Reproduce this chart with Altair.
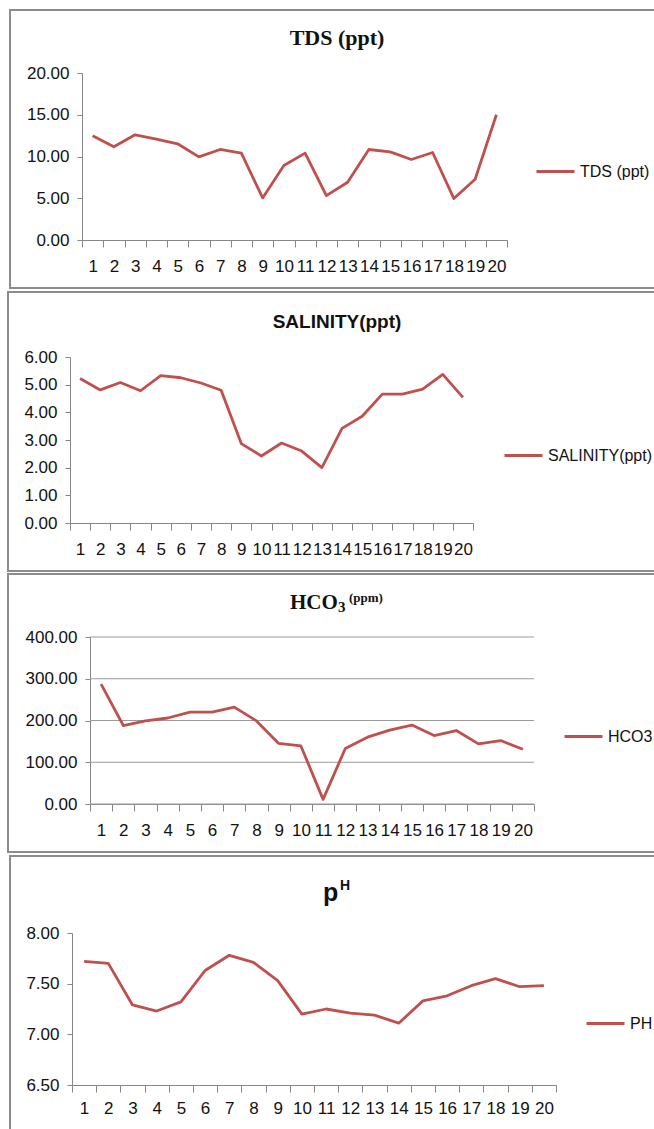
import altair as alt
import pandas as pd

# Sampling stations 1-20 and the measured parameters
stations = ["1", "2", "3", "4", "5", "6", "7", "8", "9", "10",
            "11", "12", "13", "14", "15", "16", "17", "18", "19", "20"]
tds_ppt = [12.48, 11.16, 12.60, 12.08, 11.52, 9.96, 10.84, 10.40, 5.04, 8.92,
           10.40, 5.32, 6.92, 10.84, 10.56, 9.64, 10.48, 4.96, 7.28, 15.00]
salinity_ppt = [5.22, 4.81, 5.08, 4.78, 5.33, 5.25, 5.06, 4.80, 2.87, 2.42,
                2.89, 2.60, 2.00, 3.42, 3.86, 4.66, 4.66, 4.84, 5.37, 4.54]
hco3_ppm = [287, 188, 199, 206, 220, 220, 232, 199, 145, 139,
            11, 133, 160, 177, 189, 164, 176, 144, 152, 131]
ph_values = [7.72, 7.70, 7.29, 7.23, 7.32, 7.63, 7.78, 7.71, 7.53, 7.20,
             7.25, 7.21, 7.19, 7.11, 7.33, 7.38, 7.48, 7.55, 7.47, 7.48]

PAGE_W, PAGE_H = 654, 1129
RED = "#C0504D"
AXIS_GRAY = "#868686"
BOX_GRAY = "#8c8c8c"
SANS = "Liberation Sans"
SERIF = "Liberation Serif"
TEXT = "#111111"
TICK_FONT = 17


def one_row():
    return alt.Chart(pd.DataFrame({"k": [0]}))


def label(text, x, y, size, font, align="left"):
    return one_row().mark_text(
        text=text, font=font, fontSize=size, fontWeight="bold",
        align=align, baseline="alphabetic", color=TEXT,
    ).encode(x=alt.value(x), y=alt.value(y))


def frame(left, top, bottom, closed=True):
    style = dict(color=BOX_GRAY, strokeWidth=2)
    right = PAGE_W + 10
    rules = [
        one_row().mark_rule(**style).encode(
            x=alt.value(left), x2=alt.value(right), y=alt.value(top)),
        one_row().mark_rule(strokeCap="square", **style).encode(
            x=alt.value(left), y=alt.value(top), y2=alt.value(bottom)),
    ]
    if closed:
        rules.append(one_row().mark_rule(**style).encode(
            x=alt.value(left), x2=alt.value(right), y=alt.value(bottom)))
    return rules


def panel(values, series, domain, ticks, plot, box, titles, legend_at,
          grid=False, x_pad=11, closed=True):
    """One boxed line chart; plot = (x0, x1, y_top, y_bottom) in page pixels."""
    x0, x1, y_top, y_bottom = plot
    df = pd.DataFrame({"station": stations, "value": values, "series": series})
    y_scale = alt.Scale(domain=domain, nice=False, zero=False,
                        range=[y_bottom, y_top])
    y_axis = alt.Axis(
        title=None, orient="left", offset=-x0, values=ticks,
        format=".2f", tickSize=5, labelPadding=8, labelFont=SANS,
        labelFontSize=TICK_FONT, labelColor=TEXT,
        domainColor=AXIS_GRAY, tickColor=AXIS_GRAY, grid=False,
    )
    line = alt.Chart(df).mark_line(strokeWidth=2.8, strokeJoin="round").encode(
        x=alt.X(
            "station:N", sort=stations,
            scale=alt.Scale(type="band", paddingInner=0, paddingOuter=0,
                            range=[x0, x1]),
            axis=alt.Axis(
                title=None, orient="bottom", offset=y_bottom - PAGE_H,
                labelAngle=0, tickBand="extent", tickSize=7,
                labelPadding=x_pad, labelFont=SANS, labelFontSize=TICK_FONT,
                labelColor=TEXT, domainColor=AXIS_GRAY, tickColor=AXIS_GRAY,
                labelOverlap=False, grid=False,
            ),
        ),
        y=alt.Y("value:Q", scale=y_scale, axis=y_axis),
        color=alt.Color(
            "series:N",
            scale=alt.Scale(domain=[series], range=[RED]),
            legend=alt.Legend(
                title=None, orient="none", legendX=legend_at[0],
                legendY=legend_at[1] - 19, symbolType="stroke",
                symbolSize=1444, symbolStrokeWidth=3, labelFont=SANS,
                labelFontSize=16, labelColor=TEXT, labelOffset=4, padding=0,
            ),
        ),
    )
    layers = frame(*box, closed=closed)
    if grid:
        # horizontal gridlines at each labelled value
        grid_df = pd.DataFrame({"value": ticks})
        layers.append(
            alt.Chart(grid_df).mark_rule(color="#9a9a9a", strokeWidth=1).encode(
                y=alt.Y("value:Q", scale=y_scale, axis=y_axis),
                x=alt.value(x0), x2=alt.value(x1),
            )
        )
    layers += [line] + titles
    return alt.layer(*layers)


tds_panel = panel(
    tds_ppt, "TDS (ppt)", [0, 20], [0, 5, 10, 15, 20],
    (82, 507, 73, 240), (10, 10, 288),
    [label("TDS (ppt)", 337, 45, 22, SERIF, align="center")],
    (535, 170),
)

salinity_panel = panel(
    salinity_ppt, "SALINITY(ppt)", [0, 6], [0, 1, 2, 3, 4, 5, 6],
    (70, 473, 357, 523), (8, 292, 571),
    [label("SALINITY(ppt)", 337, 328, 19, SANS, align="center")],
    (503, 454),
)

hco3_panel = panel(
    hco3_ppm, "HCO3", [0, 400], [0, 100, 200, 300, 400],
    (90, 534, 637, 804), (8, 574, 852),
    [
        label("HCO", 290, 609, 21, SERIF),
        label("3", 338, 612, 15, SERIF),
        label("(ppm)", 349, 602, 13, SERIF),
    ],
    (563, 735), grid=True,
)

ph_panel = panel(
    ph_values, "PH", [6.5, 8], [6.5, 7.0, 7.5, 8.0],
    (72, 556, 933, 1085), (10, 856, PAGE_H + 5),
    [
        label("p", 323, 901, 25, SANS),
        label("H", 340, 890, 14, SANS),
    ],
    (585, 1022), x_pad=8, closed=False,
)

chart = (
    alt.layer(tds_panel, salinity_panel, hco3_panel, ph_panel)
    .resolve_scale(x="independent", y="independent", color="independent")
    .resolve_axis(x="independent", y="independent")
    .resolve_legend(color="independent")
    .properties(width=PAGE_W, height=PAGE_H, padding=0,
                autosize=alt.AutoSizeParams(type="none"))
    .configure_view(strokeWidth=0)
    .configure_axis(domainWidth=1, tickWidth=1)
)

chart.save("out.html", embed_options={"renderer": "svg", "actions": False})
